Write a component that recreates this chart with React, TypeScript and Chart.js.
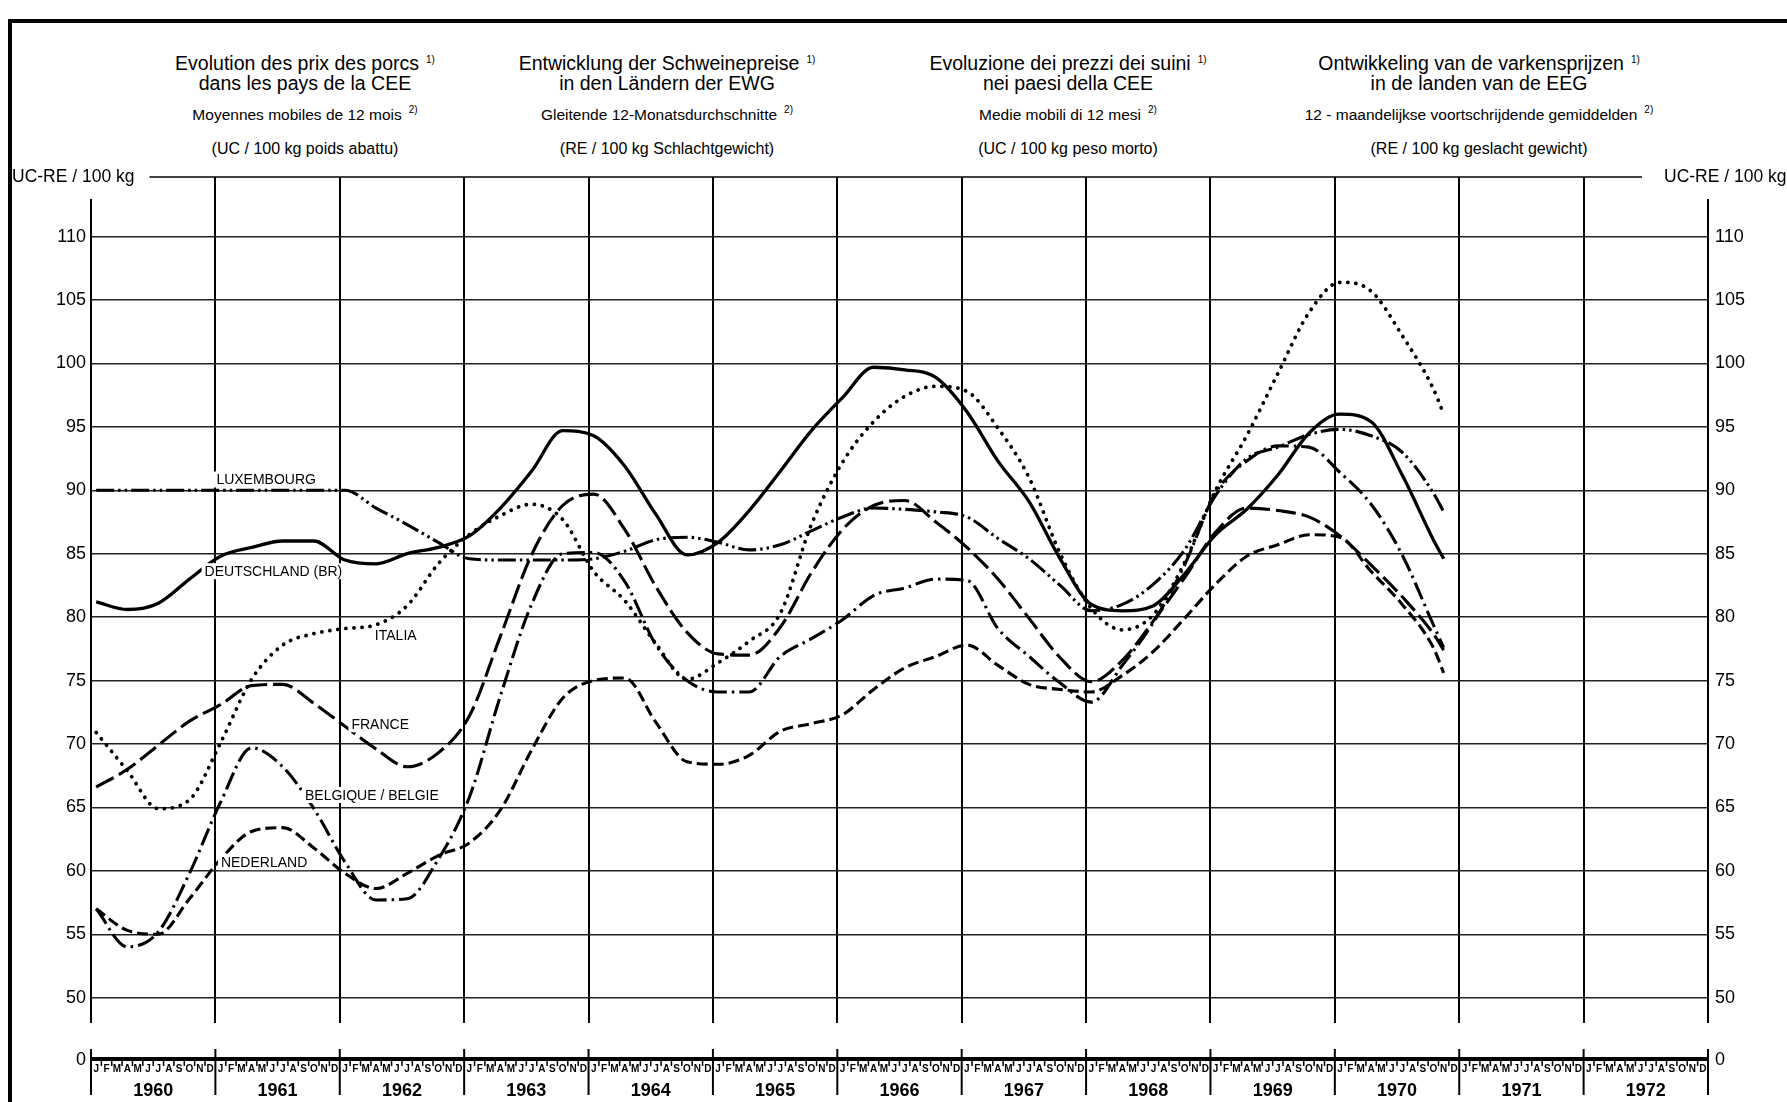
import React, { useEffect, useRef } from 'react';
import { Chart, registerables } from 'chart.js';

Chart.register(...registerables);

const FONT = '"Liberation Sans", Arial, Helvetica, sans-serif';

// month index from January 1960 (0) — quarterly readings, last one November 1970
const months = [0, 3, 6, 9, 12, 15, 18, 21, 24, 27, 30, 33, 36, 39, 42, 45, 48, 51, 54, 57, 60, 63, 66, 69, 72, 75, 78, 81, 84, 87, 90, 93, 96, 99, 102, 105, 108, 111, 114, 117, 120, 123, 126, 129, 130];

const deutschland = [81.2, 80.6, 81.1, 83.0, 84.8, 85.5, 86.0, 86.0, 84.5, 84.2, 85.0, 85.5, 86.4, 88.6, 91.5, 94.7, 94.3, 91.9, 88.1, 84.9, 85.9, 88.4, 91.5, 94.7, 97.3, 99.7, 99.5, 98.9, 96.2, 92.3, 89.1, 84.6, 81.0, 80.5, 80.9, 83.4, 86.5, 88.5, 91.2, 94.5, 96.0, 95.4, 91.2, 86.1, 84.6];
const france = [66.6, 68.0, 69.9, 71.8, 73.1, 74.6, 74.7, 73.2, 71.4, 69.6, 68.2, 69.3, 72.2, 78.5, 84.9, 88.8, 89.7, 86.9, 82.4, 78.8, 77.1, 77.0, 79.2, 83.5, 86.9, 88.8, 89.2, 87.5, 85.5, 83.0, 79.9, 76.8, 74.9, 76.6, 79.7, 83.1, 86.7, 88.6, 88.4, 87.9, 86.4, 84.1, 81.6, 78.7, 77.4];
const italia = [70.9, 67.9, 64.9, 65.6, 70.1, 75.1, 77.8, 78.7, 79.1, 79.4, 80.9, 84.2, 86.5, 88.0, 88.9, 87.7, 83.6, 81.3, 77.9, 75.1, 76.4, 78.1, 80.3, 87.3, 92.2, 95.4, 97.4, 98.2, 97.8, 94.9, 91.0, 85.0, 80.7, 79.0, 80.2, 84.3, 90.0, 94.3, 99.2, 104.0, 106.4, 105.7, 102.2, 98.0, 96.0];
const nederland = [57.0, 55.3, 55.0, 57.8, 60.9, 63.1, 63.4, 61.8, 59.8, 58.6, 59.8, 61.2, 62.2, 64.8, 69.5, 73.6, 75.0, 75.2, 71.7, 68.6, 68.4, 69.1, 71.0, 71.6, 72.3, 74.3, 76.0, 76.9, 77.8, 76.2, 74.7, 74.3, 74.1, 75.4, 77.3, 79.9, 82.6, 84.8, 85.7, 86.5, 86.3, 83.6, 81.0, 77.6, 75.6];
const belgique = [57.0, 54.0, 55.2, 59.8, 65.4, 69.7, 68.2, 64.9, 60.7, 57.7, 57.8, 60.9, 65.8, 73.8, 81.0, 85.0, 85.1, 82.8, 77.8, 75.0, 74.1, 74.1, 76.9, 78.3, 79.8, 81.7, 82.3, 83.0, 82.9, 79.1, 76.9, 74.8, 73.3, 76.2, 79.6, 84.1, 89.8, 92.3, 93.5, 93.4, 91.4, 88.9, 84.9, 79.4, 77.6];
const luxembourg = [90.0, 90.0, 90.0, 90.0, 90.0, 90.0, 90.0, 90.0, 90.0, 88.6, 87.3, 85.9, 84.6, 84.5, 84.5, 84.5, 84.6, 85.2, 86.1, 86.3, 85.9, 85.3, 85.7, 86.8, 87.9, 88.6, 88.5, 88.3, 87.9, 86.2, 84.6, 82.5, 80.5, 81.0, 82.6, 85.3, 89.6, 92.5, 93.4, 94.4, 94.8, 94.3, 93.0, 89.8, 88.3];

const yearLabels = ['1960', '1961', '1962', '1963', '1964', '1965', '1966', '1967', '1968', '1969', '1970', '1971', '1972'];
const monthLetters = ['J', 'F', 'M', 'A', 'M', 'J', 'J', 'A', 'S', 'O', 'N', 'D'];
const yTicks = [50, 55, 60, 65, 70, 75, 80, 85, 90, 95, 100, 105, 110];
const unitLabel = 'UC-RE / 100 kg';

const seriesLabels = [
  { text: 'LUXEMBOURG', month: 16.9, value: 90.85 },
  { text: 'DEUTSCHLAND (BR)', month: 17.6, value: 83.62 },
  { text: 'ITALIA', month: 29.4, value: 78.56 },
  { text: 'FRANCE', month: 27.9, value: 71.55 },
  { text: 'BELGIQUE / BELGIE', month: 27.1, value: 65.98 },
  { text: 'NEDERLAND', month: 16.7, value: 60.68 },
];

const titleBlocks = [
  { cx: 305, l1: 'Evolution des prix des porcs', l2: 'dans les pays de la CEE', sub: 'Moyennes mobiles de 12 mois', unit: '(UC / 100 kg poids abattu)' },
  { cx: 667, l1: 'Entwicklung der Schweinepreise', l2: 'in den Ländern der EWG', sub: 'Gleitende 12-Monatsdurchschnitte', unit: '(RE / 100 kg Schlachtgewicht)' },
  { cx: 1068, l1: 'Evoluzione dei prezzi dei suini', l2: 'nei paesi della CEE', sub: 'Medie mobili di 12 mesi', unit: '(UC / 100 kg peso morto)' },
  { cx: 1479, l1: 'Ontwikkeling van de varkensprijzen', l2: 'in de landen van de EEG', sub: '12 - maandelijkse voortschrijdende gemiddelden', unit: '(RE / 100 kg geslacht gewicht)' },
];

const seriesStyles = [
  { name: 'Deutschland (BR)', values: deutschland, dash: [] as number[], width: 3.3, cap: 'butt' },
  { name: 'France', values: france, dash: [20, 6], width: 3.1, cap: 'butt' },
  { name: 'Italia', values: italia, dash: [0.1, 8], width: 3.8, cap: 'round' },
  { name: 'Nederland', values: nederland, dash: [11, 5], width: 3.1, cap: 'butt' },
  { name: 'Belgique / België', values: belgique, dash: [18, 5, 2.5, 5], width: 3.1, cap: 'butt' },
  { name: 'Luxembourg', values: luxembourg, dash: [18, 4, 2.5, 4, 2.5, 4], width: 3.1, cap: 'butt' },
];

const decorPlugin = {
  id: 'decor',
  afterDraw(chart: any) {
    const { ctx, chartArea: ca, scales } = chart;
    const x = scales.x;
    const y = scales.y;
    ctx.save();
    ctx.fillStyle = '#000';
    ctx.strokeStyle = '#000';

    // unit labels and top frame line
    ctx.font = `17.5px ${FONT}`;
    ctx.textBaseline = 'middle';
    ctx.textAlign = 'left';
    const wLab = ctx.measureText(unitLabel).width;
    const leftLabX = 12;
    const rightLabX = ca.right - 44;
    ctx.fillText(unitLabel, leftLabX, ca.top);
    ctx.fillText(unitLabel, rightLabX, ca.top);
    ctx.lineWidth = 1.5;
    ctx.beginPath();
    ctx.moveTo(leftLabX + wLab + 15, ca.top);
    ctx.lineTo(rightLabX - 22, ca.top);
    ctx.stroke();

    // axis lines (start below the unit labels)
    ctx.lineWidth = 2;
    [ca.left, ca.right].forEach((px: number) => {
      ctx.beginPath();
      ctx.moveTo(px, ca.top + 22);
      ctx.lineTo(px, ca.bottom);
      ctx.stroke();
    });

    // zero axis strip
    const zeroY = ca.bottom + 36;
    const x0 = x.getPixelForValue(0);
    const x1 = x.getPixelForValue(156);
    ctx.lineWidth = 4;
    ctx.beginPath();
    ctx.moveTo(x0, zeroY);
    ctx.lineTo(x1, zeroY);
    ctx.stroke();

    ctx.lineWidth = 1.5;
    for (let m = 1; m < 156; m++) {
      if (m % 12 === 0) continue;
      const px = x.getPixelForValue(m);
      ctx.beginPath();
      ctx.moveTo(px, zeroY + 2);
      ctx.lineTo(px, zeroY + 7);
      ctx.stroke();
    }
    ctx.lineWidth = 2;
    for (let k = 0; k <= 13; k++) {
      const px = x.getPixelForValue(k * 12);
      ctx.beginPath();
      ctx.moveTo(px, zeroY - 10);
      ctx.lineTo(px, zeroY + 36);
      ctx.stroke();
    }

    ctx.textAlign = 'center';
    ctx.font = `bold 10px ${FONT}`;
    for (let m = 0; m < 156; m++) {
      ctx.fillText(monthLetters[m % 12], x.getPixelForValue(m + 0.5), zeroY + 10);
    }
    ctx.font = `bold 18px ${FONT}`;
    yearLabels.forEach((yl, k) => {
      ctx.fillText(yl, x.getPixelForValue(k * 12 + 6), zeroY + 32);
    });

    ctx.font = `18px ${FONT}`;
    ctx.textAlign = 'right';
    ctx.fillText('0', ca.left - 5, zeroY + 1);
    ctx.textAlign = 'left';
    ctx.fillText('0', ca.right + 7, zeroY + 1);

    // series name labels
    ctx.font = `14px ${FONT}`;
    ctx.textAlign = 'center';
    seriesLabels.forEach((l) => {
      const px = x.getPixelForValue(l.month);
      const py = y.getPixelForValue(l.value);
      const w = ctx.measureText(l.text).width;
      ctx.fillStyle = '#fff';
      ctx.fillRect(px - w / 2 - 3, py - 8, w + 6, 16);
      ctx.fillStyle = '#000';
      ctx.fillText(l.text, px, py + 1);
    });
    ctx.restore();
  },
};

function Sup({ t }: { t: string }) {
  return <span style={{ fontSize: 10, position: 'relative', top: -7, marginLeft: 7 }}>{t}</span>;
}

export default function App() {
  const ref = useRef<HTMLCanvasElement>(null);

  useEffect(() => {
    if (!ref.current) return;
    Chart.defaults.font.family = FONT;
    const datasets = seriesStyles.map((s) => ({
      label: s.name,
      data: months.map((m, i) => ({ x: m + 0.5, y: s.values[i] })),
      borderColor: '#000',
      backgroundColor: '#000',
      borderWidth: s.width,
      borderDash: s.dash,
      borderCapStyle: s.cap as any,
      borderJoinStyle: 'round' as any,
      pointRadius: 0,
      cubicInterpolationMode: 'monotone' as any,
      fill: false,
      xAxisID: 'x',
      yAxisID: 'y',
    }));
    const tickCfg = {
      color: '#000',
      font: { size: 18, family: FONT },
    };
    const chart = new Chart(ref.current, {
      type: 'line',
      data: { datasets },
      plugins: [decorPlugin],
      options: {
        responsive: false,
        animation: false,
        devicePixelRatio: 1,
        layout: { padding: { top: 177, left: 0, right: 0, bottom: 0 } },
        plugins: { legend: { display: false }, tooltip: { enabled: false }, title: { display: false } },
        scales: {
          x: {
            type: 'linear',
            min: 0,
            max: 156,
            position: 'bottom',
            afterBuildTicks: (s: any) => {
              s.ticks = yearLabels.concat(['end']).map((_, k) => ({ value: k * 12 }));
            },
            ticks: { display: false },
            grid: {
              drawTicks: false,
              lineWidth: 2,
              color: (c: any) => (c.tick && (c.tick.value === 0 || c.tick.value === 156) ? 'rgba(0,0,0,0)' : '#000'),
            },
            border: { display: false },
            afterFit: (s: any) => {
              s.height = 79;
            },
          },
          y: {
            type: 'linear',
            position: 'left',
            min: 48,
            max: 114.7,
            afterBuildTicks: (s: any) => {
              s.ticks = yTicks.map((v) => ({ value: v }));
            },
            ticks: { ...tickCfg, padding: 5 },
            grid: { drawTicks: false, color: '#222', lineWidth: 1.4 },
            border: { display: false },
            afterFit: (s: any) => {
              s.width = 91;
            },
          },
          y2: {
            type: 'linear',
            position: 'right',
            min: 48,
            max: 114.7,
            afterBuildTicks: (s: any) => {
              s.ticks = yTicks.map((v) => ({ value: v }));
            },
            ticks: { ...tickCfg, padding: 7 },
            grid: { display: false, drawTicks: false },
            border: { display: false },
            afterFit: (s: any) => {
              s.width = 79;
            },
          },
        },
      } as any,
    });
    return () => chart.destroy();
  }, []);

  const line = (cx: number, cy: number, size: number, content: React.ReactNode, key: string) => (
    <div
      key={key}
      style={{
        position: 'absolute',
        left: cx - 350,
        width: 700,
        top: cy - 12,
        height: 24,
        lineHeight: '24px',
        fontSize: size,
        textAlign: 'center',
        whiteSpace: 'nowrap',
        color: '#000',
      }}
    >
      {content}
    </div>
  );

  return (
    <div
      style={{
        position: 'fixed',
        left: 0,
        top: 0,
        width: 1787,
        height: 1102,
        overflow: 'hidden',
        background: '#fff',
        fontFamily: FONT,
      }}
    >
      <div
        style={{
          position: 'absolute',
          left: 8,
          top: 19,
          width: 3000,
          height: 3000,
          borderLeft: '4px solid #000',
          borderTop: '4px solid #000',
        }}
      />
      {titleBlocks.map((b, i) => (
        <React.Fragment key={i}>
          {line(b.cx, 63, 19.5, <>{b.l1}<Sup t="1)" /></>, 'a' + i)}
          {line(b.cx, 83, 19.5, b.l2, 'b' + i)}
          {line(b.cx, 115, 15.5, <>{b.sub}<Sup t="2)" /></>, 'c' + i)}
          {line(b.cx, 149, 16, b.unit, 'd' + i)}
        </React.Fragment>
      ))}
      <canvas
        ref={ref}
        width={1787}
        height={1102}
        style={{ position: 'absolute', left: 0, top: 0, width: 1787, height: 1102 }}
      />
    </div>
  );
}
